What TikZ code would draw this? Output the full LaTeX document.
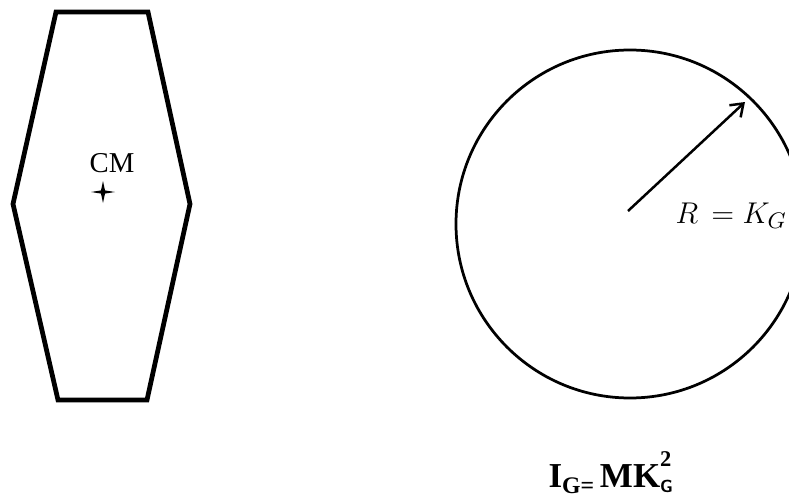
\documentclass[tikz,border=0pt]{standalone}
\usepackage{amsmath}
\usepackage{fontspec}
\setmainfont{Liberation Serif}
\usepackage{tikz}
\usetikzlibrary{arrows.meta,positioning,calc}
\definecolor{ink}{HTML}{000000}
\tikzset{
  hull/.style={draw=ink, line width=1.9pt, line join=miter},
  rim/.style={draw=ink, line width=1.1pt},
  radius arrow/.style={draw=ink, line width=1pt, -{Straight Barb[length=4.6pt,width=6.6pt,line width=1pt]}}
}
\begin{document}
\begin{tikzpicture}[x=0.4pt, y=-0.4pt]
  \path[use as bounding box, clip] (0,0) rectangle (789,500);
  % irregular body
  \draw[hull] (56,12) -- (148,12) -- (190,204) -- (147,400) -- (58,400) -- (13,204) -- cycle;
  \node[font=\fontsize{11.5}{13}\selectfont, color=ink] (cm) at (112,163) {CM};
  \coordinate (g) at (103,192);
  \fill[ink] ($(g)+(-12,0)$) -- ($(g)+(-2,-1.6)$) -- ($(g)+(0,-11)$) -- ($(g)+(2,-1.6)$)
        -- ($(g)+(12,0)$) -- ($(g)+(2,1.6)$) -- ($(g)+(0,11)$) -- ($(g)+(-2,1.6)$) -- cycle;
  % equivalent ring
  \coordinate (o) at (630,224);
  \draw[rim] (o) circle (174);
  \coordinate (rtail) at (628,211);
  \coordinate (rtip) at (745,102);
  \draw[radius arrow] (rtail) -- (rtip);
  \node[font=\fontsize{13}{15}\selectfont, anchor=base west, inner sep=0pt] (rk) at (675,223) {$R\,=K_G$};
  % moment of inertia
  \node[font=\fontsize{14}{16}\selectfont\bfseries, anchor=base west, inner sep=0pt] (ig) at (548,488)
       {I\raisebox{-0.35ex}{\fontsize{9.5}{10}\selectfont G=}\,MK\rlap{\raisebox{1.35ex}{\fontsize{9}{10}\selectfont 2}}\raisebox{-0.3ex}{\fontsize{7}{8}\selectfont\sffamily G}};
\end{tikzpicture}
\end{document}
